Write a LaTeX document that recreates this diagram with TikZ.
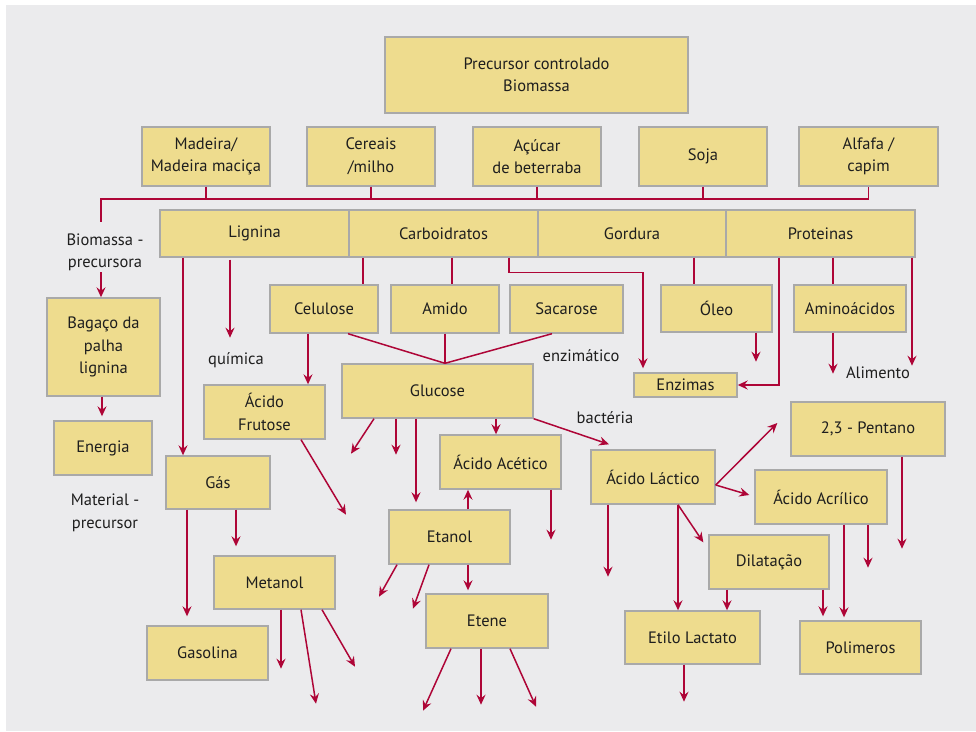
\documentclass[tikz,border=0pt]{standalone}
\usepackage{fontspec}
\setmainfont{PT Sans}
\usepackage{xcolor}
\usetikzlibrary{arrows.meta}
\definecolor{bgrey}{HTML}{EBEBED}
\definecolor{bfill}{HTML}{EEDC8E}
\definecolor{bline}{HTML}{A9A9A9}
\definecolor{rline}{HTML}{AE0537}
\definecolor{tgrey}{HTML}{1E1E1E}

\begin{document}
\begin{tikzpicture}[x=1pt,y=-1pt,
    font=\fontsize{16.5}{22.5}\selectfont,
    box/.style={draw=bline,line width=1.4pt,fill=bfill,text=tgrey,inner sep=0pt,
        align=center,minimum height=54pt},
    lbl/.style={text=tgrey,align=center,inner sep=1pt},
    ln/.style={rline,line width=1.5pt},
    arr/.style={ln,-{Stealth[length=10pt,width=9pt,inset=3.5pt]}}]
    \useasboundingbox (0,0) rectangle (976,731);
    \fill[bgrey] (6,5) rectangle (976,731);

    % top rows
    \node[box,minimum width=303pt,minimum height=76pt] (prec) at (536.5,75) {Precursor controlado\\Biomassa};
    \node[box,minimum width=128pt,minimum height=59pt] (mad) at (206,156.5) {Madeira/\\Madeira maciça};
    \node[box,minimum width=128pt,minimum height=59pt] (cer) at (371,156.5) {Cereais\\/milho};
    \node[box,minimum width=128pt,minimum height=59pt] (acu) at (537,156.5) {Açúcar\\de beterraba};
    \node[box,minimum width=128pt,minimum height=59pt] (soja) at (703,156.5) {Soja};
    \node[box,minimum width=139pt,minimum height=59pt] (alf) at (868.5,156.5) {Alfafa /\\capim};

    \node[box,minimum width=189pt,minimum height=47pt] (lig) at (254.5,233.5) {Lignina};
    \node[box,minimum width=189pt,minimum height=47pt] (carb) at (443.5,233.5) {Carboidratos};
    \node[box,minimum width=188pt,minimum height=47pt] (gord) at (632,233.5) {Gordura};
    \node[box,minimum width=189pt,minimum height=47pt] (prot) at (820.5,233.5) {Proteinas};

    % left column
    \node[lbl] (bioprec) at (105,252.5) {Biomassa -\\precursora};
    \node[box,minimum width=113pt,minimum height=98pt] (bag) at (103.5,347) {Bagaço da\\palha\\lignina};
    \node[box,minimum width=98pt] (ener) at (103,448) {Energia};
    \node[lbl] (matprec) at (105,513) {Material -\\precursor};

    % lignina branch
    \node[lbl] (quim) at (236,360) {química};
    \node[box,minimum width=104pt,minimum height=53pt] (gas) at (218,482.5) {Gás};
    \node[box,minimum width=121pt,minimum height=53pt] (met) at (274.5,582.5) {Metanol};
    \node[box,minimum width=121pt] (gasol) at (207.5,653) {Gasolina};

    % carboidratos branch
    \node[box,minimum width=108pt,minimum height=48pt] (cel) at (324,309) {Celulose};
    \node[box,minimum width=108pt,minimum height=48pt] (ami) at (445,309) {Amido};
    \node[box,minimum width=113pt,minimum height=48pt] (sac) at (566.5,309) {Sacarose};
    \node[box,minimum width=121pt] (frut) at (264.5,412) {Ácido\\Frutose};
    \node[box,minimum width=191pt] (glu) at (437.5,391) {Glucose};
    \node[box,minimum width=121pt] (acet) at (500.5,462) {Ácido Acético};
    \node[box,minimum width=121pt] (etan) at (449.5,537) {Etanol};
    \node[box,minimum width=122pt] (etene) at (487,621) {Etene};
    \node[lbl] (enzl) at (581,356) {enzimático};
    \node[lbl] (bact) at (605,418) {bactéria};

    % gordura / proteinas branch
    \node[box,minimum width=111pt,minimum height=47pt] (oleo) at (716.5,308.5) {Óleo};
    \node[box,minimum width=112pt,minimum height=47pt] (amin) at (850,308.5) {Aminoácidos};
    \node[box,minimum width=103pt,minimum height=24pt] (enz) at (685.5,385) {Enzimas};
    \node[lbl] (alim) at (878,373) {Alimento};

    % acido lactico branch
    \node[box,minimum width=124pt] (lact) at (653,477) {Ácido Láctico};
    \node[box,minimum width=154pt] (pent) at (868,429) {2,3 - Pentano};
    \node[box,minimum width=132pt] (acri) at (821,497) {Ácido Acrílico};
    \node[box,minimum width=120pt] (dil) at (769,562) {Dilatação};
    \node[box,minimum width=135pt,minimum height=53pt] (etil) at (692.5,637.5) {Etilo Lactato};
    \node[box,minimum width=121pt,minimum height=53pt] (pol) at (860.5,647.5) {Polimeros};

    % bus
    \coordinate (busl) at (101,199);
    \draw[ln] ([yshift=11pt]bioprec.north -| busl) -- (busl) -| (alf.south);
    \foreach \n in {mad,cer,acu,soja}
        \draw[ln] (\n.south) -- (\n.south |- busl);
    \draw[arr] (bioprec.south -| busl) -- (bag.north -| busl);
    \draw[arr,shorten >=4pt] ([xshift=-1.5pt]bag.south) -- ([xshift=-1pt]ener.north);

    % lignina
    \draw[arr] ([xshift=-71.5pt]lig.south) -- ([xshift=-35pt]gas.north);
    \draw[arr] ([xshift=-24.5pt,yshift=-2pt]lig.south) -- ++(0,78);
    \draw[arr,shorten >=9pt] ([xshift=-31pt]gas.south) -- ([xshift=-20.5pt]gasol.north);
    \draw[arr,shorten >=9pt] ([xshift=18pt]gas.south) -- ([xshift=-38.5pt]met.north);
    \draw[arr] ([xshift=6.5pt]met.south) -- ++(0,59);
    \draw[arr] ([xshift=26.5pt]met.south) -- ++(15,94);
    \draw[arr] ([xshift=47.5pt]met.south) -- ++(33,57);

    % carboidratos
    \draw[ln] ([xshift=-80.5pt]carb.south) -- ([xshift=39pt]cel.north);
    \draw[ln] ([xshift=8.5pt]carb.south) -- ([xshift=7pt]ami.north);
    \draw[arr,shorten >=4pt] ([xshift=65.5pt]carb.south) -- ++(0,15) -| ([xshift=-42.5pt]enz.north);
    \draw[ln] ([xshift=24pt]cel.south) -- ([xshift=7.5pt]glu.north);
    \draw[ln] (ami.south) -- ([xshift=7.5pt]glu.north);
    \draw[ln] ([xshift=-14.5pt]sac.south) -- ([xshift=7.5pt]glu.north);
    \draw[arr] ([xshift=-16pt]cel.south) -- ([xshift=43.5pt]frut.north);
    \draw[arr] ([xshift=36.5pt]frut.south) -- ++(45,75);

    % glucose
    \draw[arr] ([xshift=-63.5pt]glu.south) -- ++(-23,35);
    \draw[arr] ([xshift=-41.5pt]glu.south) -- ++(0,36);
    \draw[arr,shorten >=7pt] ([xshift=-21.5pt]glu.south) -- ([xshift=-33.5pt]etan.north);
    \draw[arr] ([xshift=58.5pt]glu.south) -- ([xshift=-4.5pt]acet.north);
    \draw[arr] (glu.south east) -- ([xshift=-44pt,yshift=5pt]lact.north);
    \draw[arr] ([xshift=18.5pt]etan.north) -- ([xshift=-32.5pt]acet.south);
    \draw[arr,shorten >=3pt] ([xshift=18.5pt]etan.south) -- ([xshift=-19pt]etene.north);
    \draw[arr] ([xshift=-52.5pt]etan.south) -- ++(-18,32);
    \draw[arr] ([xshift=-20.5pt]etan.south) -- ++(-16,44);
    \draw[arr] ([xshift=50.5pt]acet.south) -- ++(0,50);
    \draw[arr] ([xshift=-36pt]etene.south) -- ++(-28,62);
    \draw[arr] ([xshift=-6pt]etene.south) -- ++(0,56);
    \draw[arr] ([xshift=23pt]etene.south) -- ++(26,58);

    % gordura, proteinas
    \draw[ln] ([xshift=62pt]gord.south) -- ([xshift=-22.5pt]oleo.north);
    \draw[arr] ([xshift=39.5pt]oleo.south) -- ++(0,29);
    \draw[ln] ([xshift=12.5pt]prot.south) -- ([xshift=-17pt]amin.north);
    \draw[arr] ([xshift=-17pt]amin.south) -- ++(0,41);
    \draw[arr] ([xshift=-41.5pt]prot.south) |- (enz.east);
    \draw[arr] ([xshift=91.5pt]prot.south) -- ++(0,108);

    % acido lactico
    \draw[arr] ([yshift=-8pt]lact.east) -- ([xshift=-13pt,yshift=6pt]pent.west);
    \draw[arr] ([yshift=-8pt]lact.east) -- ([xshift=-5pt,yshift=2pt]acri.west);
    \draw[arr] ([xshift=-45pt]lact.south) -- ++(0,72);
    \draw[arr] ([xshift=25pt]lact.south) -- ([xshift=-14.5pt]etil.north);
    \draw[arr] ([xshift=25pt]lact.south) -- ([xshift=-5pt,yshift=-8pt]dil.north west);
    \draw[arr] ([xshift=34pt]pent.south) -- ++(0,92);
    \draw[arr,shorten >=3pt] ([xshift=23pt]acri.south) -- ([xshift=-16.5pt]pol.north);
    \draw[arr] ([xshift=47pt]acri.south) -- ++(0,43);
    \draw[arr] ([xshift=-42pt]dil.south) -- ([xshift=34.5pt]etil.north);
    \draw[arr,shorten >=4pt] ([xshift=54pt]dil.south) -- ([xshift=-37.5pt]pol.north);
    \draw[arr] ([xshift=-8.5pt]etil.south) -- ++(0,37);
\end{tikzpicture}
\end{document}
